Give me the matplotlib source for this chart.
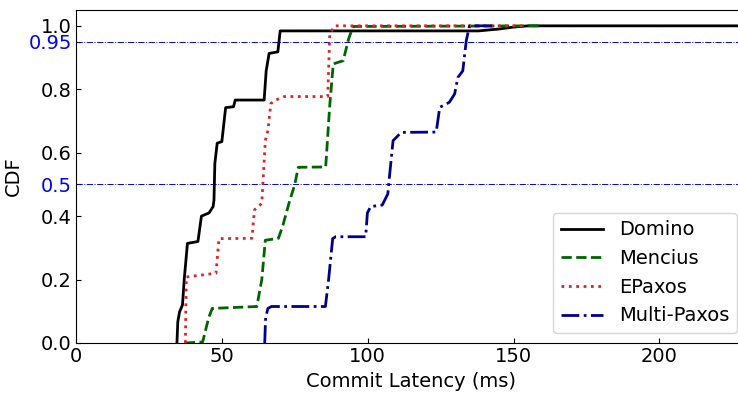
import numpy as np
import matplotlib
matplotlib.use('Agg')
import matplotlib.pyplot as plt

### DATA

domino_x = [34.6, 34.9, 35.5, 36.5, 37.1, 38.2, 41.8, 43.0, 45.6, 47.0, 47.3, 47.6, 48.4, 50.0, 51.3,
            54.0, 54.6, 64.5, 65.2, 66.2, 69.2, 70.0, 138, 145, 150, 155, 230]
domino_y = [0.0, 0.067, 0.098, 0.12, 0.20, 0.314, 0.32, 0.40, 0.41, 0.43, 0.45, 0.566, 0.63, 0.635, 0.742,
            0.745, 0.766, 0.766, 0.858, 0.913, 0.918, 0.984, 0.984, 0.99, 0.996, 1.0, 1.0]

mencius_x = [37.3, 43.4, 45.5, 46.7, 62.0, 63.7, 64.9, 69.4, 70.9, 73.0, 75.0, 76.2, 85.6, 87.0, 88.2,
             91.6, 93.5, 95.0, 160]
mencius_y = [0.0, 0.003, 0.08, 0.109, 0.115, 0.20, 0.324, 0.33, 0.37, 0.44, 0.50, 0.554, 0.555, 0.75, 0.88,
             0.89, 0.96, 0.998, 1.0]

epaxos_x = [37.5, 37.8, 48.0, 49.0, 60.3, 61.2, 63.7, 64.9, 65.8, 66.8, 68.5, 71.4, 86.3, 87.0, 88.7, 153]
epaxos_y = [0.0, 0.208, 0.22, 0.329, 0.33, 0.42, 0.44, 0.638, 0.67, 0.755, 0.766, 0.777, 0.777, 0.974, 1.0, 1.0]

mpaxos_x = [64.7, 65.0, 65.8, 67.0, 85.5, 86.6, 88.0, 89.0, 99.3, 99.9, 101.0, 105.0, 106.9, 107.2, 108.7,
            111.5, 123.5, 124.7, 128.0, 129.8, 130.9, 132.6, 133.8, 134.9, 143]
mpaxos_y = [0.0, 0.08, 0.109, 0.115, 0.115, 0.20, 0.329, 0.335, 0.335, 0.41, 0.43, 0.435, 0.47, 0.50, 0.638,
            0.664, 0.665, 0.743, 0.759, 0.785, 0.837, 0.858, 0.953, 1.0, 1.0]

names = ['Domino', 'Mencius', 'EPaxos', 'Multi-Paxos']

### PLOT

fig = plt.figure(figsize=(7.38, 3.99), dpi=100)
ax = fig.add_axes([0.103, 0.1404, 0.909, 0.8346])

ax.axhline(0.95, color='blue', linestyle='-.', linewidth=0.7)
ax.axhline(0.5, color='blue', linestyle='-.', linewidth=0.7)

ax.plot(domino_x, domino_y, color='black', linestyle='-', linewidth=2, label=names[0])
ax.plot(mencius_x, mencius_y, color='darkgreen', linestyle='--', linewidth=2, label=names[1])
ax.plot(epaxos_x, epaxos_y, color='#d62728', linestyle=':', linewidth=2, label=names[2])
ax.plot(mpaxos_x, mpaxos_y, color='darkblue', linestyle='-.', linewidth=2, label=names[3])

ax.set_xlim(0, 230)
ax.set_ylim(0, 1.05)
ax.set_xticks([0, 50, 100, 150, 200])
yt = [0.0, 0.2, 0.4, 0.5, 0.6, 0.8, 0.95, 1.0]
ax.set_yticks(yt)
ax.set_yticklabels(['0.0', '0.2', '0.4', '0.5', '0.6', '0.8', '0.95', '1.0'])
for lab, v in zip(ax.get_yticklabels(), yt):
    if v in (0.5, 0.95):
        lab.set_color('blue')
ax.tick_params(direction='in', labelsize=14, pad=3)
ax.set_xlabel('Commit Latency (ms)', fontsize=14)
ax.set_ylabel('CDF', fontsize=14)

ax.legend(loc='lower right', fontsize=14, handlelength=2.2)

fig.savefig('out.png', dpi=100)
